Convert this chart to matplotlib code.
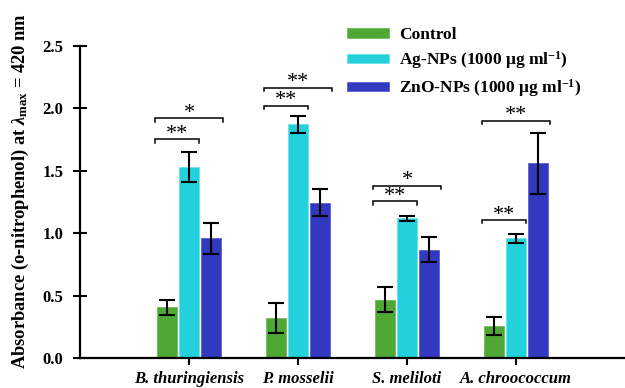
import matplotlib
matplotlib.use("Agg")
import matplotlib.pyplot as plt
import numpy as np

plt.rcParams['font.family'] = ['Liberation Serif', 'DejaVu Serif']
plt.rcParams['font.weight'] = 'bold'
plt.rcParams['mathtext.fontset'] = 'custom'
plt.rcParams['mathtext.rm'] = 'Liberation Serif:bold'
plt.rcParams['mathtext.bf'] = 'Liberation Serif:bold'
plt.rcParams['mathtext.it'] = 'Liberation Serif:bold:italic'
plt.rcParams['mathtext.default'] = 'rm'

categories = ["B. thuringiensis", "P. mosselii", "S. meliloti", "A. chroococcum"]
series_names = ["Control", r"Ag-NPs (1000 μg ml$^{-1}$)", r"ZnO-NPs (1000 μg ml$^{-1}$)"]
control = [0.41, 0.32, 0.47, 0.26]
control_err = [0.06, 0.12, 0.10, 0.07]
ag = [1.53, 1.87, 1.12, 0.96]
ag_err = [0.12, 0.065, 0.02, 0.035]
zno = [0.96, 1.245, 0.87, 1.56]
zno_err = [0.125, 0.11, 0.10, 0.245]
colors = ["#4fa736", "#22d1db", "#3239bf"]
edge_colors = ["#6cbf55", "#6ae3ea", "#5a60d6"]

# significance brackets: (category index, bracket height, right end group, label)
sig_cat = [0, 0, 1, 1, 2, 2, 3, 3]
sig_y = [1.752, 1.92, 2.02, 2.165, 1.256, 1.38, 1.106, 1.90]
sig_to = [1, 2, 1, 2, 1, 2, 1, 2]
sig_label = ["**", "*", "**", "**", "**", "*", "**", "**"]

fig = plt.figure(figsize=(6.25, 3.88), dpi=100)
ax = fig.add_axes([0.128, 0.0765, 0.872, 0.8057])

x = np.arange(1, len(categories) + 1)
width = 0.18
offsets = [-0.2, 0.0, 0.2]
vals = [control, ag, zno]
errs = [control_err, ag_err, zno_err]
for i in range(3):
    ax.bar(x + offsets[i], vals[i], width=width, color=colors[i],
           edgecolor=edge_colors[i], linewidth=0.6, label=series_names[i], zorder=2)
    ax.errorbar(x + offsets[i], vals[i], yerr=errs[i], fmt='none', ecolor='black',
                elinewidth=1.5, capsize=6, capthick=1.5, zorder=3)

right_off = {1: 0.09, 2: 0.31}
for c, yv, to, lab in zip(sig_cat, sig_y, sig_to, sig_label):
    x0 = x[c] - 0.31
    x1 = x[c] + right_off[to]
    h = 0.027
    ax.plot([x0, x0, x1, x1], [yv - h, yv, yv, yv - h], color='black', lw=1.1,
            solid_joinstyle='miter', zorder=4)
    ax.text((x0 + x1) / 2, yv + 0.004, lab, ha='center', va='baseline',
            fontsize=16, fontweight='normal', zorder=4)

ax.set_xlim(0, 5)
ax.set_ylim(0, 2.5)
ax.set_yticks([0.0, 0.5, 1.0, 1.5, 2.0, 2.5])
ax.set_yticklabels(["0.0", "0.5", "1.0", "1.5", "2.0", "2.5"])
ax.set_xticks(x)
ax.set_xticklabels(categories, fontstyle='italic', fontweight='bold')
for s in ['top', 'right']:
    ax.spines[s].set_visible(False)
for s in ['left', 'bottom']:
    ax.spines[s].set_linewidth(1.6)
ax.tick_params(axis='y', direction='inout', length=10, width=1.5, labelsize=12, pad=7)
ax.tick_params(axis='x', direction='out', length=5, width=1.5, labelsize=12, pad=4)

ax.set_ylabel(r"Absorbance (o-nitrophenol) at $\mathit{\lambda}_{\rm max}$ = 420 nm",
              fontsize=13.3, fontweight='bold')
ax.yaxis.set_label_coords(-0.09, 0.535)

leg = fig.legend(loc='upper left', bbox_to_anchor=(0.555, 0.93), frameon=False,
                 fontsize=12.5, handlelength=2.4, handleheight=0.45, handletextpad=0.6,
                 labelspacing=0.35, borderpad=0, borderaxespad=0)

fig.savefig("out.png", dpi=100)
